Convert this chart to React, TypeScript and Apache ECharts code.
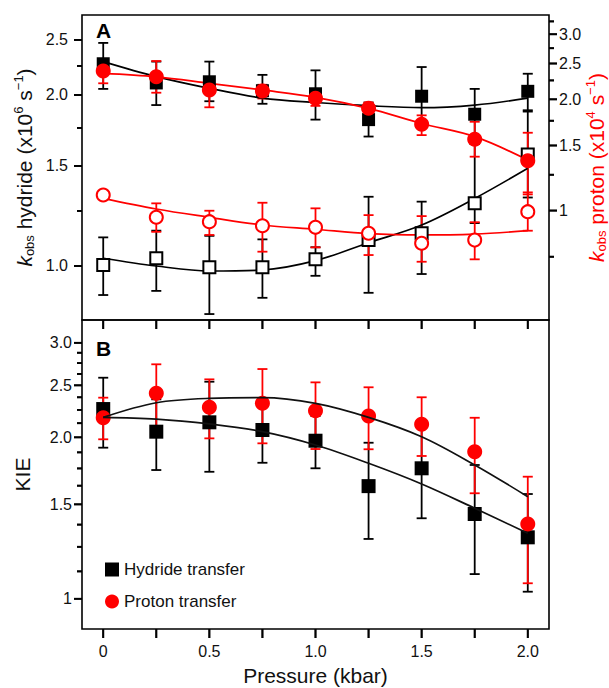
import React, { useEffect, useRef } from 'react';
import * as echarts from 'echarts';

// ---------- shared x values ----------
const pressure = [0, 0.25, 0.5, 0.75, 1.0, 1.25, 1.5, 1.75, 2.0];
const pressureRange = [-0.1, 2.1];
const pressureTicks = [0, 0.25, 0.5, 0.75, 1.0, 1.25, 1.5, 1.75, 2.0];
const pressureLabelValues = [0, 0.5, 1.0, 1.5, 2.0];
const pressureLabels = ['0', '0.5', '1.0', '1.5', '2.0'];

// ---------- panel A: hydride transfer, k_obs (x10^6 s^-1), left axis ----------
const hydrideH = [2.27, 2.1, 2.11, 2.035, 2.01, 1.81, 1.99, 1.85, 2.03];
const hydrideHLow = [2.05, 1.92, 1.95, 1.93, 1.81, 1.69, 1.77, 1.64, 1.88];
const hydrideHHigh = [2.47, 2.29, 2.29, 2.17, 2.21, 1.94, 2.24, 2.05, 2.18];
const hydrideHFit = [2.29, 2.155, 2.055, 1.975, 1.94, 1.915, 1.9, 1.92, 1.975];

const hydrideD = [1.004, 1.032, 0.995, 0.995, 1.028, 1.111, 1.142, 1.289, 1.571];
const hydrideDLow = [0.889, 0.904, 0.823, 0.879, 0.961, 0.897, 0.968, 1.19, 1.32];
const hydrideDHigh = [1.123, 1.154, 1.13, 1.114, 1.079, 1.324, 1.298, 1.64, 1.87];
const hydrideDFit = [1.032, 1.0, 0.98, 0.984, 1.022, 1.099, 1.181, 1.315, 1.486];

// ---------- panel A: proton transfer, k_obs (x10^4 s^-1), right axis ----------
const protonH = [2.386, 2.302, 2.119, 2.106, 2.012, 1.891, 1.711, 1.559, 1.364];
const protonHLow = [2.21, 2.084, 1.903, 2.01, 1.92, 1.82, 1.6, 1.399, 1.106];
const protonHHigh = [2.555, 2.539, 2.3, 2.19, 2.1, 1.96, 1.81, 1.739, 1.624];
const protonHFit = [2.35, 2.3, 2.21, 2.12, 2.025, 1.89, 1.72, 1.585, 1.37];

const protonD = [1.102, 0.959, 0.933, 0.91, 0.901, 0.868, 0.816, 0.832, 0.993];
const protonDLow = [1.08, 0.876, 0.859, 0.774, 0.795, 0.758, 0.727, 0.738, 0.882];
const protonDHigh = [1.125, 1.046, 0.999, 1.05, 1.014, 0.972, 0.966, 0.93, 1.12];
const protonDFit = [1.079, 1.01, 0.959, 0.914, 0.89, 0.866, 0.859, 0.864, 0.882];

// ---------- panel B: kinetic isotope effects ----------
const kieHydride = [2.258, 2.049, 2.133, 2.064, 1.971, 1.622, 1.751, 1.439, 1.302];
const kieHydrideLow = [1.913, 1.738, 1.725, 1.793, 1.751, 1.293, 1.413, 1.112, 1.031];
const kieHydrideHigh = [2.583, 2.354, 2.539, 2.33, 2.191, 1.954, 2.088, 1.776, 1.568];
const kieHydrideFit = [2.179, 2.163, 2.118, 2.049, 1.935, 1.789, 1.637, 1.475, 1.325];

const kieProton = [2.175, 2.416, 2.275, 2.314, 2.242, 2.191, 2.115, 1.88, 1.379];
const kieProtonLow = [1.983, 2.099, 1.991, 1.949, 1.902, 1.9, 1.846, 1.573, 1.069];
const kieProtonHigh = [2.371, 2.736, 2.565, 2.681, 2.532, 2.479, 2.375, 2.175, 1.689];
const kieProtonFit = [2.179, 2.32, 2.364, 2.371, 2.314, 2.179, 2.005, 1.776, 1.55];

// ---------- log axes: ranges and ticks ----------
const hydrideRange = [0.8034, 2.766];
const hydrideTicks = [1.0, 1.5, 2.0, 2.5];
const hydrideTickLabels = ['1.0', '1.5', '2.0', '2.5'];
const hydrideMinorTicks = [1.25, 1.75, 2.25];

const protonRange = [0.5057, 3.382];
const protonTicks = [1, 1.5, 2.0, 2.5, 3.0];
const protonTickLabels = ['1', '1.5', '2.0', '2.5', '3.0'];
const protonMinorTicks = [0.75, 1.25, 1.75, 2.25, 2.75, 3.25];

const kieRange = [0.8785, 3.309];
const kieTicks = [1, 1.5, 2.0, 2.5, 3.0];
const kieTickLabels = ['1', '1.5', '2.0', '2.5', '3.0'];
const kieMinorTicks = [1.125, 1.25, 1.375, 1.625, 1.75, 1.875, 2.125, 2.25, 2.375, 2.625, 2.75, 2.875];

const FONT = '"Liberation Sans", Arial, Helvetica, sans-serif';
const INK = '#111111';
const RED = '#ff0000';
const ln = Math.log;

const points = (ys: number[]) => pressure.map((x, i) => [x, ln(ys[i])]);
const bars = (lo: number[], hi: number[]) => pressure.map((x, i) => [x, ln(lo[i]), ln(hi[i])]);

const logLabel = (values: number[], labels: string[]) => (v: number) => {
  const i = values.findIndex((t) => Math.abs(ln(t) - v) < 1e-6);
  return i < 0 ? '' : labels[i];
};

function logAxis(
  gridIndex: number,
  position: 'left' | 'right',
  range: number[],
  ticks: number[],
  labels: string[],
  margin: number,
  extra: Record<string, unknown> = {}
) {
  return {
    type: 'value',
    gridIndex,
    position,
    min: ln(range[0]),
    max: ln(range[1]),
    axisLine: { show: false, onZero: false },
    splitLine: { show: false },
    axisTick: { show: false },
    axisLabel: {
      show: true,
      customValues: ticks.map(ln),
      formatter: logLabel(ticks, labels),
      fontSize: 16,
      color: INK,
      fontFamily: FONT,
      margin,
    },
    ...extra,
  };
}

function pressureAxis(gridIndex: number, withLabels: boolean) {
  return {
    type: 'value',
    gridIndex,
    position: 'bottom',
    min: pressureRange[0],
    max: pressureRange[1],
    axisLine: { show: false, onZero: false },
    splitLine: { show: false },
    axisTick: { show: false },
    axisLabel: withLabels
      ? {
          show: true,
          customValues: pressureLabelValues,
          formatter: (v: number) => {
            const i = pressureLabelValues.findIndex((t) => Math.abs(t - v) < 1e-6);
            return i < 0 ? '' : pressureLabels[i];
          },
          fontSize: 16,
          color: INK,
          fontFamily: FONT,
          margin: 14,
        }
      : { show: false },
    ...(withLabels
      ? {
          name: 'Pressure (kbar)',
          nameLocation: 'middle',
          nameGap: 36,
          nameMoveOverlap: false,
          nameTextStyle: { fontSize: 21, color: INK, fontFamily: FONT },
        }
      : {}),
  };
}

// Which tick marks sit on which side of which panel frame.
type TickSpec = {
  values: number[];
  side: 'left' | 'right' | 'bottom';
  len: number;
  xAxisIndex: number;
  yAxisIndex: number;
  yRange: number[];
};
const tickSpecs: TickSpec[] = [
  { values: hydrideTicks, side: 'left', len: 8, xAxisIndex: 0, yAxisIndex: 0, yRange: hydrideRange },
  { values: hydrideMinorTicks, side: 'left', len: 5, xAxisIndex: 0, yAxisIndex: 0, yRange: hydrideRange },
  { values: protonTicks, side: 'right', len: 8, xAxisIndex: 0, yAxisIndex: 1, yRange: protonRange },
  { values: protonMinorTicks, side: 'right', len: 5, xAxisIndex: 0, yAxisIndex: 1, yRange: protonRange },
  { values: pressureTicks, side: 'bottom', len: 9, xAxisIndex: 0, yAxisIndex: 0, yRange: hydrideRange },
  { values: kieTicks, side: 'left', len: 8, xAxisIndex: 1, yAxisIndex: 2, yRange: kieRange },
  { values: kieMinorTicks, side: 'left', len: 5, xAxisIndex: 1, yAxisIndex: 2, yRange: kieRange },
  { values: pressureTicks, side: 'bottom', len: 9, xAxisIndex: 1, yAxisIndex: 2, yRange: kieRange },
];

// Data point on the frame edge where a tick starts, in axis units.
const tickAnchor = (spec: TickSpec, v: number) =>
  spec.side === 'bottom'
    ? [v, ln(spec.yRange[0])]
    : [spec.side === 'left' ? pressureRange[0] : pressureRange[1], ln(v)];

// Tick end points from the pixel position of the anchor.
function tickShape(spec: TickSpec, p: number[]) {
  if (spec.side === 'left') return { x1: p[0] - spec.len, y1: p[1], x2: p[0], y2: p[1] };
  if (spec.side === 'right') return { x1: p[0], y1: p[1], x2: p[0] + spec.len, y2: p[1] };
  return { x1: p[0], y1: p[1], x2: p[0], y2: p[1] + spec.len };
}

// Tick marks on the outside of a panel frame, as a custom series on that panel's axes.
function tickSeries(spec: TickSpec) {
  return {
    type: 'custom',
    xAxisIndex: spec.xAxisIndex,
    yAxisIndex: spec.yAxisIndex,
    clip: false,
    data: spec.values.map((v) => tickAnchor(spec, v)),
    encode: { x: 0, y: 1 },
    renderItem: (_params: any, api: any) => {
      const p = api.coord([api.value(0), api.value(1)]);
      return {
        type: 'group',
        children: [{ type: 'line', shape: tickShape(spec, p), style: { stroke: '#000', lineWidth: 1.8 } }],
      };
    },
  };
}

function errorBars(lo: number[], hi: number[], color: string, xAxisIndex: number, yAxisIndex: number, z: number) {
  return {
    type: 'custom',
    xAxisIndex,
    yAxisIndex,
    z,
    silent: true,
    data: bars(lo, hi),
    encode: { x: 0, y: [1, 2] },
    renderItem: (_params: any, api: any) => {
      const x = api.value(0);
      const a = api.coord([x, api.value(1)]);
      const b = api.coord([x, api.value(2)]);
      const half = 5;
      const style = { stroke: color, lineWidth: 1.8 };
      return {
        type: 'group',
        children: [
          { type: 'line', shape: { x1: a[0], y1: a[1], x2: b[0], y2: b[1] }, style },
          { type: 'line', shape: { x1: a[0] - half, y1: a[1], x2: a[0] + half, y2: a[1] }, style },
          { type: 'line', shape: { x1: b[0] - half, y1: b[1], x2: b[0] + half, y2: b[1] }, style },
        ],
      };
    },
  };
}

function fitLine(ys: number[], color: string, xAxisIndex: number, yAxisIndex: number, z: number) {
  return {
    type: 'line',
    xAxisIndex,
    yAxisIndex,
    z,
    silent: true,
    smooth: 0.35,
    showSymbol: false,
    symbol: 'none',
    data: points(ys),
    lineStyle: { color, width: 1.7 },
  };
}

function markers(
  name: string,
  ys: number[],
  symbol: string,
  size: number,
  fill: string,
  border: string,
  xAxisIndex: number,
  yAxisIndex: number,
  z: number
) {
  return {
    type: 'scatter',
    name,
    xAxisIndex,
    yAxisIndex,
    z,
    silent: true,
    symbol,
    symbolSize: size,
    data: points(ys),
    itemStyle: { color: fill, borderColor: border, borderWidth: fill === '#ffffff' ? 2 : 0, opacity: 1 },
  };
}

const titleRich = {
  k: { fontStyle: 'italic', fontSize: 21, lineHeight: 24 },
  t: { fontSize: 21, lineHeight: 24 },
  sub: { fontSize: 13, lineHeight: 13, verticalAlign: 'bottom' },
  sup: { fontSize: 13, lineHeight: 13, verticalAlign: 'top' },
};

export default function App() {
  const ref = useRef<HTMLDivElement>(null);

  useEffect(() => {
    if (!ref.current) return;
    const chart = echarts.init(ref.current, undefined, { renderer: 'svg' });

    const panelLetters = [
      { type: 'text', left: 96, top: 20, style: { text: 'A', fontSize: 21, fontWeight: 'bold', fontFamily: FONT, fill: '#000' } },
      { type: 'text', left: 96, top: 338, style: { text: 'B', fontSize: 21, fontWeight: 'bold', fontFamily: FONT, fill: '#000' } },
    ];

    const option: any = {
      animation: false,
      grid: [
        { left: 82, top: 15, width: 467, height: 305, show: true, borderColor: '#000', borderWidth: 1.6, outerBoundsMode: 'none' },
        { left: 82, top: 320, width: 467, height: 309, show: true, borderColor: '#000', borderWidth: 1.6, outerBoundsMode: 'none' },
      ],
      xAxis: [pressureAxis(0, false), pressureAxis(1, true)],
      yAxis: [
        logAxis(0, 'left', hydrideRange, hydrideTicks, hydrideTickLabels, 14, {
          name: '{k|k}{sub|obs}{t| hydride (x10}{sup|6}{t| s}{sup|−1}{t|)}',
          nameLocation: 'middle',
          nameRotate: 90,
          nameGap: 46,
          nameMoveOverlap: false,
          nameTextStyle: { color: INK, fontFamily: FONT, rich: titleRich },
        }),
        logAxis(0, 'right', protonRange, protonTicks, protonTickLabels, 10, {
          name: '{k|k}{sub|obs}{t| proton (x10}{sup|4}{t| s}{sup|−1}{t|)}',
          nameLocation: 'middle',
          nameRotate: 90,
          nameGap: 35,
          nameMoveOverlap: false,
          nameTextStyle: { color: RED, fontFamily: FONT, rich: titleRich },
        }),
        logAxis(1, 'left', kieRange, kieTicks, kieTickLabels, 10, {
          name: 'KIE',
          nameLocation: 'middle',
          nameRotate: 90,
          nameGap: 48,
          nameMoveOverlap: false,
          nameTextStyle: { color: INK, fontFamily: FONT, fontSize: 21, lineHeight: 24 },
        }),
      ],
      legend: {
        left: 105,
        top: 561,
        orient: 'vertical',
        padding: 0,
        itemWidth: 14,
        itemHeight: 14,
        itemGap: 15,
        selectedMode: false,
        textStyle: { fontSize: 17, color: INK, fontFamily: FONT },
        data: [
          { name: 'Hydride transfer', icon: 'rect' },
          { name: 'Proton transfer', icon: 'circle' },
        ],
      },
      graphic: panelLetters,
      series: [
        // frame ticks
        ...tickSpecs.map(tickSeries),
        // panel A
        errorBars(hydrideHLow, hydrideHHigh, '#000', 0, 0, 2),
        errorBars(hydrideDLow, hydrideDHigh, '#000', 0, 0, 2),
        errorBars(protonHLow, protonHHigh, RED, 0, 1, 3),
        errorBars(protonDLow, protonDHigh, RED, 0, 1, 3),
        fitLine(hydrideHFit, '#000', 0, 0, 4),
        fitLine(hydrideDFit, '#000', 0, 0, 4),
        fitLine(protonHFit, RED, 0, 1, 4),
        fitLine(protonDFit, RED, 0, 1, 4),
        markers('kH hydride', hydrideH, 'rect', 13, '#000000', '#000', 0, 0, 5),
        markers('kD hydride', hydrideD, 'rect', 12, '#ffffff', '#000', 0, 0, 5),
        markers('kH proton', protonH, 'circle', 15, RED, RED, 0, 1, 6),
        markers('kD proton', protonD, 'circle', 13, '#ffffff', RED, 0, 1, 6),
        // panel B
        errorBars(kieHydrideLow, kieHydrideHigh, '#000', 1, 2, 2),
        errorBars(kieProtonLow, kieProtonHigh, RED, 1, 2, 3),
        markers('Hydride transfer', kieHydride, 'rect', 14, '#000000', '#000', 1, 2, 5),
        markers('Proton transfer', kieProton, 'circle', 15, RED, RED, 1, 2, 6),
        fitLine(kieHydrideFit, '#111', 1, 2, 7),
        fitLine(kieProtonFit, '#111', 1, 2, 7),
      ],
    };

    chart.setOption(option);

    // The same frame ticks again as graphic lines, placed through each panel's cartesian scales.
    const tickLines: any[] = [];
    tickSpecs.forEach((spec) => {
      spec.values.forEach((v) => {
        const p = chart.convertToPixel(
          { xAxisIndex: spec.xAxisIndex, yAxisIndex: spec.yAxisIndex } as any,
          tickAnchor(spec, v)
        ) as unknown as number[];
        if (!Array.isArray(p) || !Number.isFinite(p[0]) || !Number.isFinite(p[1])) return;
        tickLines.push({ type: 'line', shape: tickShape(spec, p), style: { stroke: '#000', lineWidth: 1.8 } });
      });
    });
    chart.setOption({ graphic: [...panelLetters, ...tickLines] });

    return () => chart.dispose();
  }, []);

  return (
    <div
      ref={ref}
      style={{ position: 'absolute', left: 0, top: 0, width: 609, height: 688, background: '#fff' }}
    />
  );
}
